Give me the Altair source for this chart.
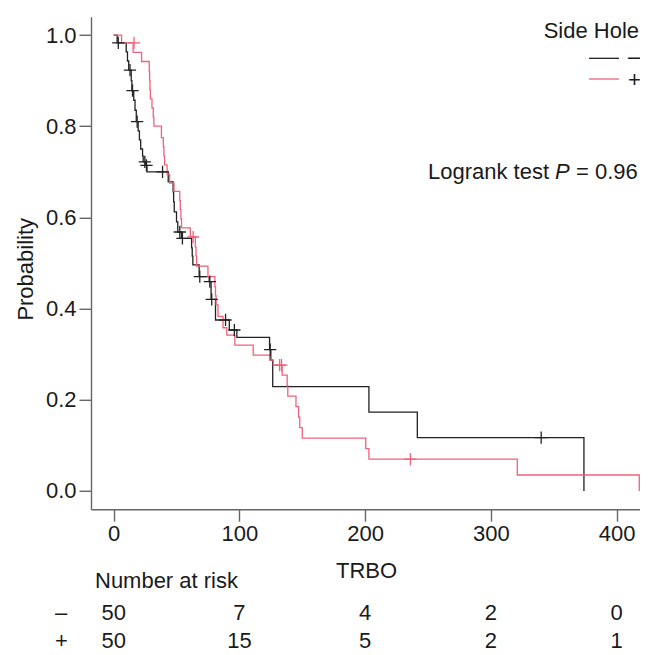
import altair as alt
import pandas as pd

# ---- Kaplan-Meier step points ----
groups = ["\u2013", "+"]
colors = ["#222222", "#F0627A"]

minus_t = [0, 2.8, 10, 11, 12, 14, 14.5, 16, 17, 18, 19.5, 20.5, 21.5, 23, 23.5, 25.5, 26.5,
           43.4, 47.3, 47.7, 48.2, 50, 51, 54, 62, 62.5, 63, 68, 76, 77.5, 81, 92, 98,
           124, 125, 126.5, 203, 241.5, 374]
minus_s = [1.0, 0.983, 0.963, 0.943, 0.923, 0.90, 0.878, 0.857, 0.835, 0.81, 0.79, 0.77, 0.75, 0.735, 0.722, 0.714, 0.70,
           0.678, 0.656, 0.634, 0.612, 0.59, 0.568, 0.554, 0.533, 0.515, 0.496, 0.47, 0.459, 0.42, 0.375, 0.353, 0.337,
           0.31, 0.287, 0.229, 0.173, 0.117, 0.0]
minus_cens_t = [3.7, 13.0, 15.0, 18.7, 24.8, 26.1, 38.9, 52.6, 54.7, 68.5, 76.5, 78, 89, 96, 124.5, 340]
minus_cens_s = [0.983, 0.923, 0.878, 0.81, 0.722, 0.714, 0.70, 0.568, 0.554, 0.47, 0.459, 0.42, 0.375, 0.353, 0.31, 0.117]

plus_t = [0, 6.3, 15.5, 22.2, 28.3, 28.6, 28.9, 29.2, 30.5, 31.5, 32, 38, 39.5, 40, 40.5, 42.5, 44.5, 48,
          52.6, 53, 53.5, 54, 61, 65, 65.5, 66, 75, 80.5, 81, 81.5, 83, 87, 90, 96.4, 111, 124, 127,
          134, 138, 138.5, 145, 147, 148, 150, 200.5, 203, 321, 418]
plus_s = [1.0, 0.983, 0.962, 0.942, 0.92, 0.90, 0.88, 0.86, 0.84, 0.82, 0.80, 0.775, 0.755, 0.735, 0.715, 0.695, 0.675, 0.657,
          0.637, 0.617, 0.597, 0.577, 0.557, 0.535, 0.515, 0.493, 0.47, 0.448, 0.428, 0.408, 0.383, 0.358, 0.342, 0.32, 0.298, 0.287, 0.276,
          0.254, 0.231, 0.208, 0.185, 0.162, 0.139, 0.116, 0.093, 0.070, 0.035, 0.0]
plus_cens_t = [16.2, 63.2, 132, 133.5, 236]
plus_cens_s = [0.983, 0.557, 0.276, 0.276, 0.070]

# ---- number at risk ----
risk_times = [0, 100, 200, 300, 400]
risk_minus = [50, 7, 4, 2, 0]
risk_plus = [50, 15, 5, 2, 1]

x_ticks = [0, 100, 200, 300, 400]
y_ticks = [0.0, 0.2, 0.4, 0.6, 0.8, 1.0]

FONT = "Liberation Sans"
FS = 22
W, H = 549, 492.4
PXU = 1.2575
x0 = -18
xscale = alt.Scale(domain=[x0, x0 + W / PXU], nice=False, zero=False)
yscale = alt.Scale(domain=[-0.04, 1.04], nice=False, zero=False)
cscale = alt.Scale(domain=groups, range=colors)

lines = pd.DataFrame({
    "t": minus_t + plus_t,
    "s": minus_s + plus_s,
    "g": [groups[0]] * len(minus_t) + [groups[1]] * len(plus_t),
})
cens = pd.DataFrame({
    "t": minus_cens_t + plus_cens_t,
    "s": minus_cens_s + plus_cens_s,
    "g": [groups[0]] * len(minus_cens_t) + [groups[1]] * len(plus_cens_t),
})

xaxis = alt.Axis(values=x_ticks, title="TRBO", grid=False, tickSize=12, labelPadding=2,
                 domainColor="#666666", tickColor="#666666", domainWidth=1.4, tickWidth=1.4,
                 labelColor="#1a1a1a", titleColor="#1a1a1a",
                 titleX=275, titleY=61, titleBaseline="middle")
yaxis = alt.Axis(values=y_ticks, format=".1f", title="Probability", grid=False, tickSize=12,
                 labelPadding=3, domainColor="#666666", tickColor="#666666", domainWidth=1.4, tickWidth=1.4,
                 labelColor="#1a1a1a", titleColor="#1a1a1a",
                 titleX=-66, titleY=252, titleBaseline="middle", titleAngle=270)

curve = alt.Chart(lines).mark_line(interpolate="step-after", strokeWidth=1.3).encode(
    x=alt.X("t:Q", scale=xscale, axis=xaxis),
    y=alt.Y("s:Q", scale=yscale, axis=yaxis),
    color=alt.Color("g:N", scale=cscale, legend=None),
    order=alt.Order("t:Q"),
)

marks = alt.Chart(cens).mark_point(shape="M-1,0H1M0,-1V1", filled=False, size=150, strokeWidth=1.3, opacity=1).encode(
    x=alt.X("t:Q", scale=xscale),
    y=alt.Y("s:Q", scale=yscale),
    color=alt.Color("g:N", scale=cscale, legend=None),
)

one = pd.DataFrame({"a": [0]})

def label(txt, x, y, align="left", style="normal"):
    return alt.Chart(one).mark_text(text=txt, align=align, baseline="middle", font=FONT, fontSize=FS,
                                    fontStyle=style, color="#1a1a1a").encode(x=alt.value(x), y=alt.value(y))

legend_title = label("Side Hole", 548, 14, align="right")
leg_rule1 = alt.Chart(one).mark_rule(color=colors[0], strokeWidth=1.3).encode(
    x=alt.value(498), x2=alt.value(528), y=alt.value(41.5))
leg_rule2 = alt.Chart(one).mark_rule(color=colors[1], strokeWidth=1.3).encode(
    x=alt.value(498), x2=alt.value(528), y=alt.value(62.2))
leg_lab1 = label(groups[0], 537, 40.6)
leg_lab2 = label(groups[1], 537, 63.2)

lr1 = label("Logrank test", 337, 155.2)
lr2 = label("P", 464.1, 155.2, style="italic")
lr3 = label("= 0.96", 485, 155.2)

nar_title = label("Number at risk", 4, 564.2)
row1_lab = label(groups[0], -36, 596.2)
row2_lab = label(groups[1], -36, 624.2)

risk = pd.DataFrame({"t": risk_times, "m": risk_minus, "p": risk_plus})
risk1 = alt.Chart(risk).mark_text(font=FONT, fontSize=FS, color="#1a1a1a", baseline="middle").encode(
    x=alt.X("t:Q", scale=xscale), y=alt.value(596.2), text="m:Q")
risk2 = alt.Chart(risk).mark_text(font=FONT, fontSize=FS, color="#1a1a1a", baseline="middle").encode(
    x=alt.X("t:Q", scale=xscale), y=alt.value(624.2), text="p:Q")

chart = alt.layer(
    curve, marks, legend_title, leg_rule1, leg_rule2, leg_lab1, leg_lab2,
    lr1, lr2, lr3, nar_title, row1_lab, row2_lab, risk1, risk2,
).properties(
    width=W, height=H,
    autosize=alt.AutoSizeParams(type="none"),
    padding={"left": 83, "top": 8.8, "right": 0, "bottom": 146},
    background="white",
).configure_view(stroke=None).configure_axis(
    labelFont=FONT, titleFont=FONT, labelFontSize=FS, titleFontSize=FS, titleFontWeight="normal",
)

chart.save("out.html", embed_options={"renderer": "svg", "actions": False})
